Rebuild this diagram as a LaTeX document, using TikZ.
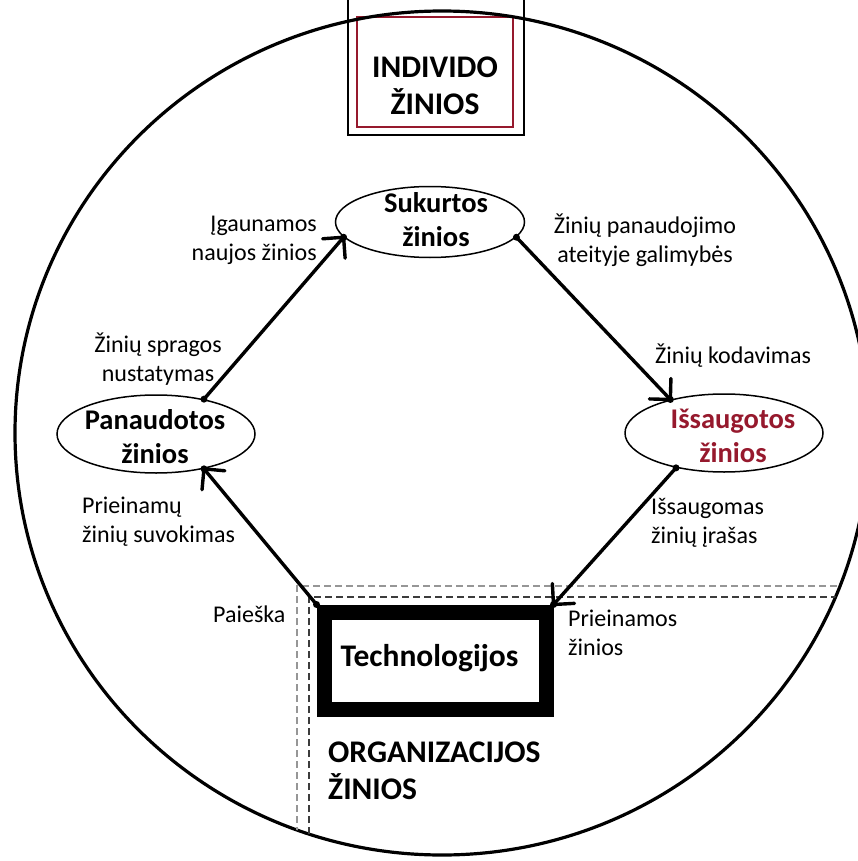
\documentclass[tikz,border=0pt]{standalone}
\usepackage{fontspec}
\setmainfont{Carlito}
\usetikzlibrary{calc,shapes.geometric}
\definecolor{wine}{RGB}{150,25,45}
\definecolor{dashlight}{RGB}{150,150,150}
\definecolor{dashdark}{RGB}{60,60,60}
\begin{document}
\begin{tikzpicture}[x=1pt,y=-1pt,
  stage/.style={draw, ellipse, line width=1.5pt, minimum width=198pt,
    minimum height=78pt, inner sep=0pt},
  stagetext/.style={font=\fontsize{28.5}{34}\selectfont\bfseries, align=center,
    inner sep=0pt, anchor=base},
  note/.style={font=\fontsize{24}{28.5}\selectfont, inner sep=0pt},
  title/.style={font=\fontsize{31.5}{37}\selectfont\bfseries, inner sep=0pt},
  flow/.style={line width=3.4pt, line join=round, line cap=round},
  joint/.style={fill=black},
  divider/.style={line width=1.6pt, dash pattern=on 7pt off 4pt}]

\useasboundingbox (0,0) rectangle (858,861);
\fill[white] (0,0) rectangle (858,861);

% individual knowledge frame at the top
\draw[line width=2.6pt] (348,-10) rectangle (524,135);
\draw[wine, line width=2.2pt] (357,17) rectangle (513,127);
\node[title, align=center, anchor=base] (indiv) at (435,115) {INDIVIDO\\ŽINIOS};

% outer boundary
\draw[line width=3.2pt] (442,433) ellipse [x radius=427, y radius=422];

% organisational area, bounded by double dashed lines
\begin{scope}
  \clip (442,433) ellipse [x radius=427, y radius=422];
  \draw[divider, dashlight] (297,900) -- (297,586) -- (900,586);
  \draw[divider, dashdark] (309,900) -- (309,597) -- (900,597);
\end{scope}

% knowledge states
\node[stage, minimum width=189pt, minimum height=71pt] (suk) at (430,222) {};
\node[stage] (pan) at (156,434) {};
\node[stage] (isa) at (724,433) {};
\node[stagetext] (suktxt) at (436,246) {Sukurtos\\žinios};
\node[stagetext] (pantxt) at (155,463) {Panaudotos\\žinios};
\node[stagetext, text=wine] (isatxt) at (733,462) {Išsaugotos\\žinios};

% technology block
\node[draw, line width=15pt, minimum width=222pt, minimum height=97pt] (tech) at (435,660.5) {};
\node[title, anchor=base] (techtxt) at (429.5,666) {Technologijos};

% cycle: shaft, open V head at the target, dots at both ends
\foreach \src/\dst in {pan.36/suk.190, suk.-10/isa.148,
    isa.216/tech.north east, tech.north west/pan.-36}{
  \draw[flow] (\src) -- (\dst);
  \draw[flow] ($(\dst)!21pt!45:(\src)$) -- (\dst) -- ($(\dst)!21pt!-45:(\src)$);
  \fill[joint] (\src) circle (3.5);
  \fill[joint] (\dst) circle (3.5);
}

% transition labels
\node[note, align=right, anchor=base east] (igauna) at (317,260) {Įgaunamos\\naujos žinios};
\node[note, align=center, anchor=base] (ateit) at (645,262) {Žinių panaudojimo\\ateityje galimybės};
\node[note, anchor=base west] (kodav) at (655,363) {Žinių kodavimas};
\node[note, align=center, anchor=base] (spragos) at (158,381) {Žinių spragos\\nustatymas};
\node[note, align=left, anchor=base west] (suvok) at (82,542) {Prieinamų\\žinių suvokimas};
\node[note, align=left, anchor=base west] (irasas) at (651,543) {Išsaugomas\\žinių įrašas};
\node[note, anchor=base west] (paieska) at (213,622) {Paieška};
\node[note, align=left, anchor=base west] (prieinamos) at (568,655) {Prieinamos\\žinios};

% organisational knowledge title
\node[title, align=left, anchor=base west] (org) at (328,799) {ORGANIZACIJOS\\ŽINIOS};
\end{tikzpicture}
\end{document}
